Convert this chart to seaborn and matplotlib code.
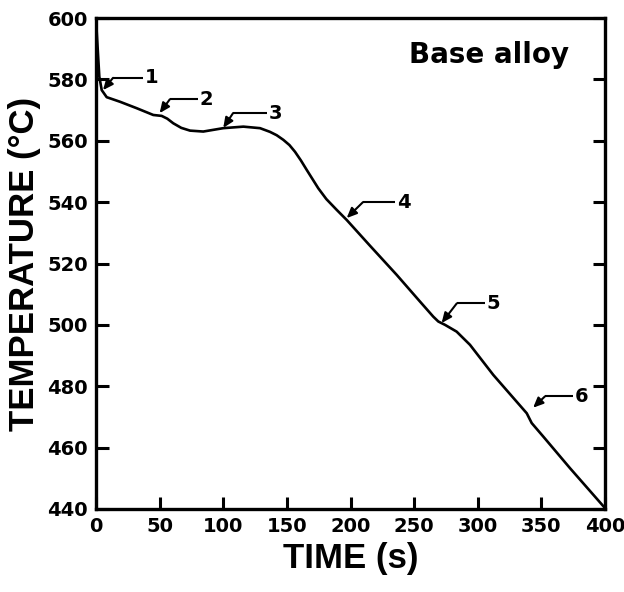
import matplotlib
matplotlib.use("Agg")
import matplotlib.pyplot as plt
import seaborn as sns
import pandas as pd

time_s = [0, 2.6, 4.5, 8.4, 18.9, 32, 45, 51.6, 56, 60.7, 67, 73.9, 84.3, 100, 115.8,
          128.9, 136.7, 142, 147.2, 152, 156.4, 161, 165.6, 174.7, 181, 189.1, 197,
          215.3, 236.3, 254.6, 265, 269, 274.3, 283.4, 293.9, 312.2, 338.5, 342.4,
          351.5, 372.5, 400]
temp_c = [599.5, 580.9, 576.5, 574.2, 572.7, 570.6, 568.4, 568.1, 567.2, 565.7, 564.2,
          563.3, 563.0, 564.1, 564.6, 564.1, 562.9, 561.8, 560.3, 558.6, 556.4, 553.6,
          550.5, 544.5, 541.0, 537.5, 534.2, 525.8, 516.3, 507.6, 502.7, 501.1, 500.0,
          497.8, 493.5, 483.7, 471.2, 468.0, 463.6, 453.3, 440.3]

labels = ["1", "2", "3", "4", "5", "6"]
tip_x = [5.5, 50, 100, 197, 271.6, 343.5]
tip_y = [576.5, 569, 564.2, 534.8, 500.6, 473]
kink_x = [13.4, 58, 107.7, 209.8, 283.5, 352.8]
kink_y = [580.5, 573.5, 569, 540, 507, 476.7]
end_x = [37, 80, 134.4, 235, 305.7, 374.8]

xticks = [0, 50, 100, 150, 200, 250, 300, 350, 400]
yticks = [440, 460, 480, 500, 520, 540, 560, 580, 600]

sns.set_theme(style="ticks")
plt.rcParams['font.family'] = ['DejaVu Sans']

df = pd.DataFrame({"time": time_s, "temp": temp_c})

fig = plt.figure(figsize=(6.24, 5.92), dpi=100)
ax = fig.add_axes([96/624, 1-509/592, (605-96)/624, (509-18)/592])

sns.lineplot(data=df, x="time", y="temp", ax=ax, color="black", linewidth=1.9,
             estimator=None, sort=False)

for lab, tx, ty, kx, ky, ex in zip(labels, tip_x, tip_y, kink_x, kink_y, end_x):
    ax.plot([kx, ex], [ky, ky], color="black", linewidth=1.5, solid_capstyle="butt")
    ax.annotate("", xy=(tx, ty), xytext=(kx, ky),
                arrowprops=dict(arrowstyle="-|>,head_length=0.5,head_width=0.22",
                                color="black", lw=1.5, shrinkA=0, shrinkB=0))
    ax.text(ex + 1.5, ky, lab, ha="left", va="center", fontsize=14,
            fontweight="bold", color="black")

ax.text(372, 588, "Base alloy", ha="right", va="center", fontsize=20,
        fontweight="bold", color="black")

ax.set_xlim(0, 400)
ax.set_ylim(440, 600)
ax.set_xticks(xticks)
ax.set_yticks(yticks)
ax.set_xticklabels([str(v) for v in xticks], fontsize=14, fontweight="bold")
ax.set_yticklabels([str(v) for v in yticks], fontsize=14, fontweight="bold")

ax.tick_params(axis="both", direction="in", length=9, width=2.2, colors="black",
               pad=6)
ax.tick_params(axis="y", right=True, left=True, labelright=False)
ax.tick_params(axis="x", top=False)

for s in ax.spines.values():
    s.set_visible(True)
    s.set_linewidth(2.4)
    s.set_color("black")

ax.set_xlabel("TIME (s)", fontsize=25, fontweight="bold", family="Liberation Sans",
              labelpad=4, color="black")
ax.set_ylabel("TEMPERATURE (°C)", fontsize=25, fontweight="bold",
              family="Liberation Sans", labelpad=4, color="black")

fig.savefig("out.png", dpi=100, facecolor="white")
